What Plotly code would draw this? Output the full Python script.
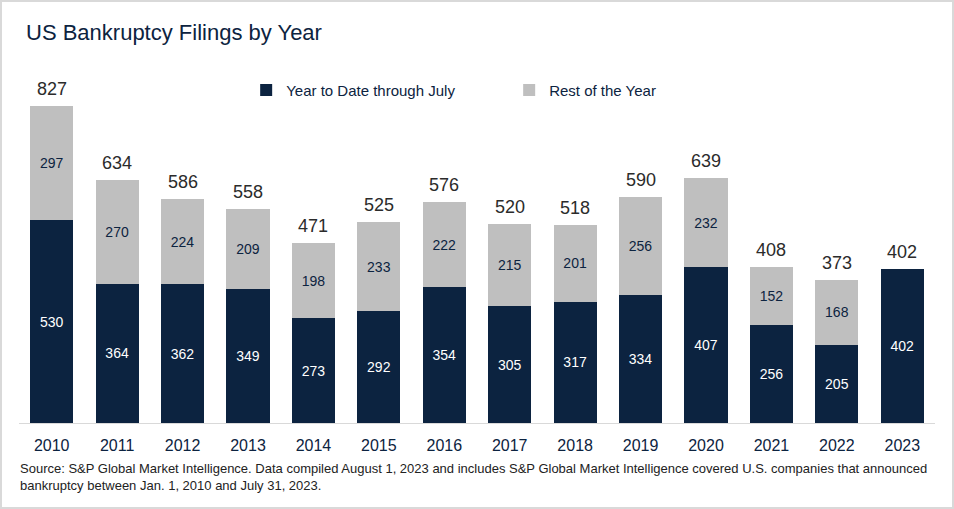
import plotly.graph_objects as go

years = ["2010", "2011", "2012", "2013", "2014", "2015", "2016", "2017", "2018", "2019", "2020", "2021", "2022", "2023"]
ytd_july = [530, 364, 362, 349, 273, 292, 354, 305, 317, 334, 407, 256, 205, 402]
rest_of_year = [297, 270, 224, 209, 198, 233, 222, 215, 201, 256, 232, 152, 168, None]
totals = [827, 634, 586, 558, 471, 525, 576, 520, 518, 590, 639, 408, 373, 402]

NAVY = "#0C2340"
GRAY = "#BFBFBF"
FONT = "Liberation Sans, Arial, sans-serif"

fig = go.Figure()
fig.add_trace(go.Bar(
    x=years, y=ytd_july, name="Year to Date through July",
    marker=dict(color=NAVY, line=dict(width=0)),
    text=ytd_july, textposition="inside", insidetextanchor="middle", textangle=0,
    textfont=dict(color="white", size=14, family=FONT),
))
fig.add_trace(go.Bar(
    x=years, y=rest_of_year, name="Rest of the Year",
    marker=dict(color=GRAY, line=dict(width=0)),
    text=[v if v is not None else "" for v in rest_of_year],
    textposition="inside", insidetextanchor="middle", textangle=0,
    textfont=dict(color=NAVY, size=14, family=FONT),
))

# totals above each stack (category index positions on the x axis)
for i, t in enumerate(totals):
    fig.add_annotation(x=i, y=t, xref="x", yref="y", text=str(t), showarrow=False,
                       yanchor="bottom", yshift=5,
                       font=dict(size=18, color="#2B2B2B", family=FONT))

fig.add_annotation(
    xref="paper", yref="paper", x=-0.001, y=-0.1, xanchor="left", yanchor="top", align="left",
    text="Source: S&P Global Market Intelligence. Data compiled August 1, 2023 and includes S&P Global Market Intelligence covered U.S. companies that announced<br>bankruptcy between Jan. 1, 2010 and July 31, 2023.",
    showarrow=False, font=dict(size=13, color="#222222", family=FONT),
)

# light border around the whole picture
fig.add_shape(type="rect", xref="paper", yref="paper",
              x0=-18/916, x1=1 + 18/916, y0=-85/363, y1=1 + 59/363,
              line=dict(color="#D9D9D9", width=2), fillcolor="rgba(0,0,0,0)", layer="below")

fig.update_layout(
    width=954, height=509,
    margin=dict(l=19, r=19, t=60, b=86, autoexpand=False),
    paper_bgcolor="white", plot_bgcolor="white",
    barmode="stack", bargap=0.34,
    showlegend=True,
    legend=dict(orientation="h", x=0.248, y=0.917, xanchor="left", yanchor="middle",
                traceorder="normal",
                font=dict(size=15, color=NAVY, family=FONT), entrywidth=218, entrywidthmode="pixels",
                itemwidth=30, bgcolor="rgba(0,0,0,0)"),
    title=dict(text="US Bankruptcy Filings by Year", x=26/954, xanchor="left", xref="container",
               y=1 - 32/509, yref="container", yanchor="middle",
               font=dict(size=22, color=NAVY, family=FONT)),
    xaxis=dict(type="category", range=[-0.5, 13.5], showline=True, linecolor="#D9D9D9", linewidth=1,
               ticks="", showgrid=False, ticklabelstandoff=8,
               tickfont=dict(size=16, color=NAVY, family=FONT)),
    yaxis=dict(range=[0, 948], visible=False, showgrid=False),
)

fig.write_html("out.html", config={"displayModeBar": False},
               post_script="document.body.style.margin='0';")
